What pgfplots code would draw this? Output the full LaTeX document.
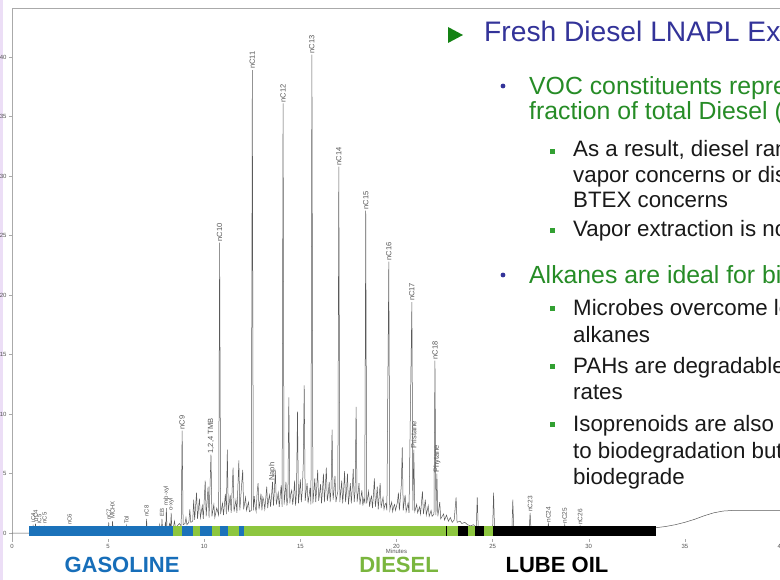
\documentclass[border=0pt]{standalone}
\usepackage{fontspec}
\setmainfont{Liberation Sans}
\usepackage{pgfplots}
\pgfplotsset{compat=1.18}
\definecolor{barblue}{RGB}{27,114,186}
\definecolor{bargreen}{RGB}{141,198,63}
\definecolor{titleblue}{RGB}{51,51,153}
\definecolor{txtgreen}{RGB}{38,140,38}
\definecolor{sqgreen}{RGB}{50,160,50}
\definecolor{trigreen}{RGB}{20,130,20}
\definecolor{dieselgreen}{RGB}{122,182,62}
\definecolor{gasblue}{RGB}{23,110,185}
\definecolor{tracec}{RGB}{90,90,90}
\definecolor{lbl}{RGB}{85,85,85}
\definecolor{frame}{RGB}{170,170,170}
\definecolor{bodytxt}{RGB}{25,25,25}
\definecolor{edge}{RGB}{236,222,246}
\newcommand{\seg}[3]{\addplot[fill=#3,draw=none] coordinates {(#1,-0.25) (#2,-0.25) (#2,0.6) (#1,0.6)} -- cycle;}
\newcommand{\pk}[4][7.5]{\node[rotate=90,anchor=west,font=\fontsize{#1}{#1}\selectfont,text=lbl,inner sep=1pt] at (axis cs:#2,#3) {#4};}
\begin{document}
\begin{tikzpicture}[x=1pt,y=1pt]
\useasboundingbox (0,0) rectangle (780,580);
\clip (0,0) rectangle (780,580);
\fill[white] (0,0) rectangle (780,580);
\fill[edge] (0,0) rectangle (2.5,580);
\begin{axis}[
  at={(12pt,41pt)}, anchor=south west,
  scale only axis, width=769pt, height=530.7pt,
  xmin=0, xmax=40, ymin=-0.5, ymax=44.1,
  clip=false,
  axis line style={draw=none},
  xtick={0,5,...,40}, ytick={0,5,...,40},
  xtick pos=lower, ytick pos=left,
  tick align=outside, major tick length=3pt,
  tick style={frame, line width=0.4pt},
  /pgf/number format/assume math mode=true,
  ticklabel style={font=\fontsize{6}{6}\selectfont, text=lbl},
  xticklabel style={yshift=1pt},
  yticklabel style={xshift=1pt},
]
\draw[frame, line width=0.8pt] (rel axis cs:0,0) -- (rel axis cs:0,1) -- (rel axis cs:1.01,1);
% chromatogram trace
\addplot[tracec, line width=0.5pt] coordinates {
(0,0)(1.0,0)(1.02,0.08)(1.08,0.08)(1.1,0.7)(1.13,0.08)(1.2,0.08)(1.22,0.8)(1.25,0.08)(1.4,0.08)(1.42,0.6)(1.45,0.08)(1.68,0.08)(1.7,0.6)(1.73,0.08)(2.98,0.08)(3.0,0.5)(3.03,0.08)(5.0,0.1)(5.03,0.9)(5.06,0.1)(5.2,0.1)(5.23,1.0)(5.26,0.1)(5.45,0.12)(5.48,0.45)(5.5,0.12)(5.93,0.12)(5.96,0.6)(5.99,0.12)(6.5,0.15)(6.53,0.35)(6.56,0.15)(6.98,0.15)(7.0,1.2)(7.03,0.15)(7.4,0.2)(7.45,0.5)(7.5,0.2)(7.65,0.25)(7.68,0.7)(7.72,0.25)(7.78,0.3)(7.8,1.2)(7.83,0.3)(7.95,0.35)(7.98,0.9)(8.0,0.4)(8.03,2.1)(8.06,0.4)(8.15,0.45)(8.2,0.8)(8.25,0.5)(8.28,1.7)(8.31,0.5)(8.4,0.5)(8.45,1.0)(8.5,0.5)(8.6,0.6)(8.7,0.8)(8.8,0.6)(8.85,8.6)(8.9,0.7)
(9.0,0.8)(9.05,1.3)(9.1,0.7)(9.2,0.9)(9.25,2.0)(9.3,0.9)(9.4,1.0)(9.45,2.8)(9.5,1.1)(9.6,3.4)(9.65,1.2)(9.75,2.9)(9.8,1.3)(9.9,2.3)(9.95,1.2)(10.05,4.4)(10.1,1.4)(10.2,3.9)(10.25,1.3)(10.35,6.6)(10.4,1.4)(10.5,2.4)(10.55,1.3)(10.65,2.1)(10.75,1.5)(10.8,24.4)(10.85,1.6)(10.95,2.5)(11.0,1.5)(11.1,3.3)(11.15,1.6)(11.2,7.0)(11.25,1.8)(11.35,3.2)(11.4,1.7)(11.5,5.5)(11.55,1.8)(11.65,2.8)(11.7,1.7)(11.8,6.1)(11.85,1.9)(12.0,5.3)(12.05,2.0)(12.15,3.0)(12.2,1.9)(12.3,2.6)(12.35,1.8)(12.45,1.9)(12.5,38.9)(12.55,1.9)(12.6,3.1)(12.65,2.2)(12.7,1.8)(12.75,3.4)(12.8,4.2)(12.85,2.0)(12.9,2.6)(12.95,3.3)(13.0,1.9)(13.05,3.0)(13.1,2.7)(13.15,2.0)(13.2,2.9)(13.25,3.9)(13.3,2.1)(13.35,2.8)(13.4,3.2)(13.45,2.2)(13.5,3.1)(13.55,4.3)(13.6,2.3)(13.65,3.6)(13.7,5.2)(13.75,2.4)(13.8,2.9)(13.85,3.4)(13.9,2.2)(13.95,3.1)(14.0,4.0)(14.05,2.2)(14.1,36.1)(14.15,2.4)(14.2,3.2)(14.25,4.3)(14.3,2.3)(14.35,3.0)(14.4,11.4)(14.45,2.5)(14.5,3.3)(14.55,3.6)(14.6,2.4)(14.65,3.1)(14.7,4.4)(14.75,2.3)(14.8,3.5)(14.85,10.2)(14.9,2.5)(14.95,3.4)(15.0,4.5)(15.05,2.6)(15.1,3.6)(15.15,5.8)(15.2,12.4)(15.25,2.7)(15.3,3.5)(15.35,4.2)(15.4,2.5)(15.45,3.1)(15.5,3.8)(15.55,2.4)(15.6,40.2)(15.65,2.5)(15.7,3.4)(15.75,4.6)(15.8,2.6)(15.85,3.8)(15.9,5.3)(15.95,2.7)(16.0,3.3)(16.05,4.1)(16.1,2.5)(16.15,3.6)(16.2,5.0)(16.25,2.6)(16.3,3.9)(16.35,5.5)(16.4,2.7)(16.45,3.3)(16.5,4.3)(16.55,2.6)(16.6,3.9)(16.65,8.7)(16.7,2.8)(16.75,3.6)(16.8,4.8)(16.85,2.6)(16.9,3.1)(16.95,3.5)(17.0,30.8)(17.05,2.6)(17.1,3.4)(17.15,4.4)(17.2,2.5)(17.25,3.6)(17.3,5.2)(17.35,2.6)(17.4,3.5)(17.45,5.0)(17.5,2.4)(17.55,3.2)(17.6,4.2)(17.65,2.5)(17.7,3.8)(17.75,5.4)(17.8,2.6)(17.85,3.6)(17.9,10.6)(17.95,2.6)(18.0,3.3)(18.05,4.2)(18.1,2.4)(18.15,3.0)(18.2,3.6)(18.25,2.3)(18.3,2.9)(18.35,2.6)(18.4,27.1)(18.45,2.5)(18.5,3.0)(18.55,3.5)(18.6,2.2)(18.65,2.8)(18.7,3.1)(18.75,2.1)(18.8,3.2)(18.85,4.6)(18.9,2.2)(18.95,2.9)(19.0,3.9)(19.05,2.0)(19.1,3.1)(19.15,4.2)(19.2,2.1)(19.25,2.6)(19.3,3.0)(19.35,2.0)(19.4,2.4)(19.45,2.5)(19.5,1.9)(19.6,22.8)(19.65,1.9)(19.7,2.3)(19.75,2.6)(19.8,1.8)(19.85,2.2)(19.9,2.4)(19.95,1.9)(20.05,2.6)(20.1,3.4)(20.15,1.9)(20.25,4.0)(20.3,7.2)(20.35,1.9)(20.4,2.6)(20.45,3.2)(20.5,1.8)(20.6,2.5)(20.65,1.7)(20.8,19.4)(20.85,1.9)(20.9,7.0)(20.95,1.8)(21.05,2.4)(21.1,1.7)(21.2,2.2)(21.25,1.6)(21.35,3.5)(21.4,1.6)(21.5,2.8)(21.55,1.5)(21.65,2.3)(21.7,1.4)(21.8,1.9)(21.85,1.4)(21.95,1.6)(22.0,14.5)(22.05,1.5)(22.1,5.0)(22.15,1.4)(22.25,2.6)(22.3,1.2)(22.45,1.6)(22.5,1.1)(22.6,1.5)(22.7,1.0)(22.8,1.3)(22.9,0.9)(23.0,1.1)(23.1,3.0)(23.15,0.9)(23.3,1.0)(23.4,0.8)(23.55,0.9)(23.7,0.7)(23.85,0.6)(24.0,0.7)(24.15,0.5)(24.2,3.0)(24.25,0.5)(24.4,0.4)(24.6,0.4)(24.8,0.3)(25.0,0.3)(25.05,3.4)(25.1,0.3)(25.5,0.2)(26.0,0.2)(26.05,2.8)(26.1,0.2)(26.9,0.2)(26.95,1.7)(27.0,0.2)(27.85,0.2)(27.9,0.8)(27.95,0.2)(28.7,0.2)(28.75,0.7)(28.8,0.2)(29.5,0.2)(29.55,0.6)(29.6,0.2)(33.5,0.45)(34.0,0.55)(34.5,0.7)(35.0,0.9)(35.5,1.15)(36.0,1.45)(36.5,1.7)(37.0,1.85)(37.5,1.9)(39.98,1.9)(40.0,0)
};
% range bar
\seg{0.9}{8.4}{barblue}
\seg{8.4}{8.85}{bargreen}
\seg{8.85}{9.4}{barblue}
\seg{9.4}{9.8}{bargreen}
\seg{9.8}{10.4}{barblue}
\seg{10.4}{10.8}{bargreen}
\seg{10.8}{11.25}{barblue}
\seg{11.25}{11.8}{bargreen}
\seg{11.8}{12.05}{barblue}
\seg{12.05}{22.55}{bargreen}
\seg{22.55}{22.65}{black}
\seg{22.65}{23.2}{bargreen}
\seg{23.2}{23.7}{black}
\seg{23.7}{24.1}{bargreen}
\seg{24.1}{24.55}{black}
\seg{24.55}{25.0}{bargreen}
\seg{25.0}{33.5}{black}
% peak labels
\pk[6]{1.1}{0.8}{iC4}
\pk[6]{1.22}{0.9}{nC4}
\pk[6]{1.42}{0.7}{iC5}
\pk[6]{1.7}{0.7}{nC5}
\pk[6]{3.0}{0.6}{nC6}
\pk[6]{5.03}{1.0}{nC7}
\pk[6]{5.23}{1.1}{MCHX}
\pk[6]{5.96}{0.7}{Tol}
\pk[6]{7.0}{1.3}{nC8}
\pk[6]{7.8}{1.3}{EB}
\pk[6]{8.03}{2.2}{m/p-xyl}
\pk[6]{8.28}{1.8}{o-xyl}
\pk{8.85}{8.6}{nC9}
\pk{10.35}{6.6}{1,2,4 TMB}
\pk{10.8}{24.4}{nC10}
\pk{12.5}{38.9}{nC11}
\pk{13.55}{4.3}{Naph}
\pk{14.1}{36.1}{nC12}
\pk{15.6}{40.2}{nC13}
\pk{17.0}{30.8}{nC14}
\pk{18.4}{27.1}{nC15}
\pk{19.6}{22.8}{nC16}
\pk{20.8}{19.4}{nC17}
\pk{20.9}{7.0}{Pristane}
\pk{22.0}{14.5}{nC18}
\pk{22.1}{5.0}{Phytane}
\pk[6.5]{26.95}{1.7}{nC23}
\pk[6.5]{27.9}{0.8}{nC24}
\pk[6.5]{28.75}{0.7}{nC25}
\pk[6.5]{29.55}{0.6}{nC26}
\node[font=\fontsize{6}{6}\selectfont,text=lbl] at (axis cs:20,-1.55) {Minutes};
\end{axis}
% range names
\node[anchor=base,inner sep=0,text=gasblue,font=\fontsize{22}{22}\selectfont\bfseries] at (122,7) {GASOLINE};
\node[anchor=base,inner sep=0,text=dieselgreen,font=\fontsize{22}{22}\selectfont\bfseries] at (399,7) {DIESEL};
\node[anchor=base,inner sep=0,text=black,font=\fontsize{22}{22}\selectfont\bfseries] at (557,7) {LUBE OIL};
% slide text
\fill[trigreen] (448,553) -- (448,537) -- (463,545) -- cycle;
\node[anchor=base west,inner sep=0,text=titleblue,font=\fontsize{28.2}{28}\selectfont] at (484,538) {Fresh Diesel LNAPL Example};
\fill[titleblue] (503,494) circle (2.4);
\fill[titleblue] (503,305) circle (2.4);
\node[anchor=base west,inner sep=0,text=txtgreen,font=\fontsize{24.8}{25}\selectfont] at (529,485) {VOC constituents represent a small};
\node[anchor=base west,inner sep=0,text=txtgreen,font=\fontsize{24.8}{25}\selectfont] at (529,460) {fraction of total Diesel (TPH)};
\node[anchor=base west,inner sep=0,text=txtgreen,font=\fontsize{24.8}{25}\selectfont] at (529,296) {Alkanes are ideal for biodegradation};
\foreach \yy in {428.5,349,271,213,155} {\fill[sqgreen] (550,\yy-2.5) rectangle (555,\yy+2.5);}
\begin{scope}[every node/.style={anchor=base west,inner sep=0,text=bodytxt,font=\fontsize{22.3}{22}\selectfont}]
\node at (573,423) {As a result, diesel range organics present few};
\node at (573,397) {vapor concerns or dissolved-phase};
\node at (573,372) {BTEX concerns};
\node at (573,343) {Vapor extraction is not effective};
\node at (573,264) {Microbes overcome low solubility of};
\node at (573,237) {alkanes};
\node at (573,206) {PAHs are degradable at slower};
\node at (573,180) {rates};
\node at (573,148) {Isoprenoids are also susceptible};
\node at (573,121) {to biodegradation but slower to};
\node at (573,95) {biodegrade};
\end{scope}
\end{tikzpicture}
\end{document}
